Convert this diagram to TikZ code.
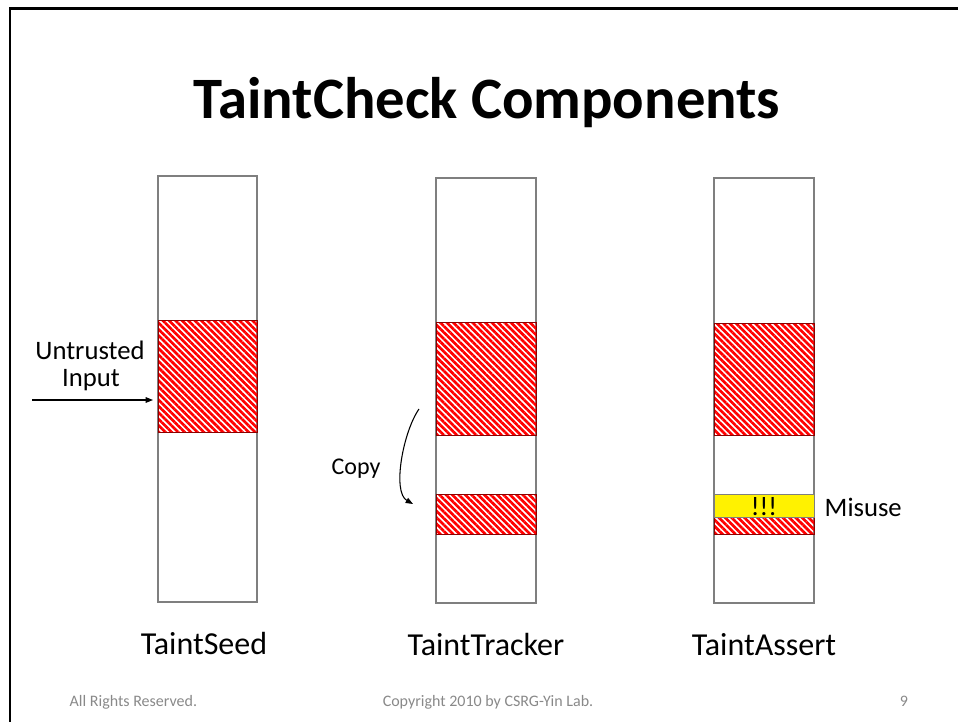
\documentclass[tikz,border=0pt]{standalone}
\usepackage{fontspec}
\setmainfont{Carlito}
\usetikzlibrary{patterns.meta,arrows.meta,fit}
\definecolor{footgray}{HTML}{898989}
\definecolor{boxgray}{HTML}{7F7F7F}
\definecolor{taintred}{HTML}{FF0000}
\begin{document}
\begin{tikzpicture}[x=0.75pt,y=-0.75pt,
  colbox/.style={draw=boxgray,line width=0.9pt,fill=white,inner sep=0pt},
  taint/.style={pattern={Lines[angle=-45,distance=3.4pt,line width=2pt]},pattern color=taintred,draw=red!55!black,line width=0.5pt,inner sep=0pt},
  alert/.style={fill=yellow,draw=boxgray,line width=0.6pt,inner sep=0pt},
  arr/.style={line width=0.8pt,-{Triangle[length=5.5pt,width=4.2pt]}},
  lbl/.style={font=\fontsize{24}{28}\selectfont,anchor=base},
  txt/.style={font=\fontsize{20}{24}\selectfont,anchor=base},
  foot/.style={font=\fontsize{12}{14}\selectfont,text=footgray,anchor=base}]
\useasboundingbox (0,0) rectangle (958,722);
\draw[line width=2pt] (10,722) -- (10,8.5) -- (958,8.5);

\node[anchor=base,font=\fontsize{44}{50}\selectfont\bfseries] (title) at (487,118) {TaintCheck Components};

% columns
\node[colbox,fit={(158,176)(257,602)}] (seed) {};
\node[colbox,fit={(436,178)(536,603)}] (tracker) {};
\node[colbox,fit={(714,178)(814,603)}] (assert) {};

% tainted regions
\node[taint,fit={(158,320)(257,432)}] (seedred) {};
\node[taint,fit={(436,322)(536,435)}] (trackred1) {};
\node[taint,fit={(436,494)(536,534)}] (trackred2) {};
\node[taint,fit={(714,323)(814,435)}] (assertred1) {};
\node[taint,fit={(714,517)(814,534)}] (assertred2) {};
\node[alert,fit={(714,494)(814,517)}] (misuse) {};
\node[txt,anchor=base] (bang) at (764,515) {!!!};

% labels
\node[lbl] (l1) at (204,654) {TaintSeed};
\node[lbl] (l2) at (486,655) {TaintTracker};
\node[lbl] (l3) at (764,655) {TaintAssert};

\node[txt] (untr) at (90,359) {Untrusted};
\node[txt] (inp) at (91,386) {Input};
\node[txt,font=\fontsize{18}{22}\selectfont] (copy) at (356,474) {Copy};
\node[txt,anchor=base west] (mis) at (820,516) {Misuse};

% arrows
\coordinate (uin) at (32,400);
\draw[arr] (uin) -- ([xshift=-3.5pt]uin -| seedred.west);
\coordinate (c1) at (419,409);
\coordinate (c2) at (413,504);
\draw[arr] (c1) .. controls (403,432) and (392,492) .. (c2);

% footer
\node[foot,anchor=base west] (f1) at (65,706) {All Rights Reserved.};
\node[foot] (f2) at (488,706) {Copyright 2010 by CSRG-Yin Lab.};
\node[foot] (f3) at (904,706) {9};
\end{tikzpicture}
\end{document}
